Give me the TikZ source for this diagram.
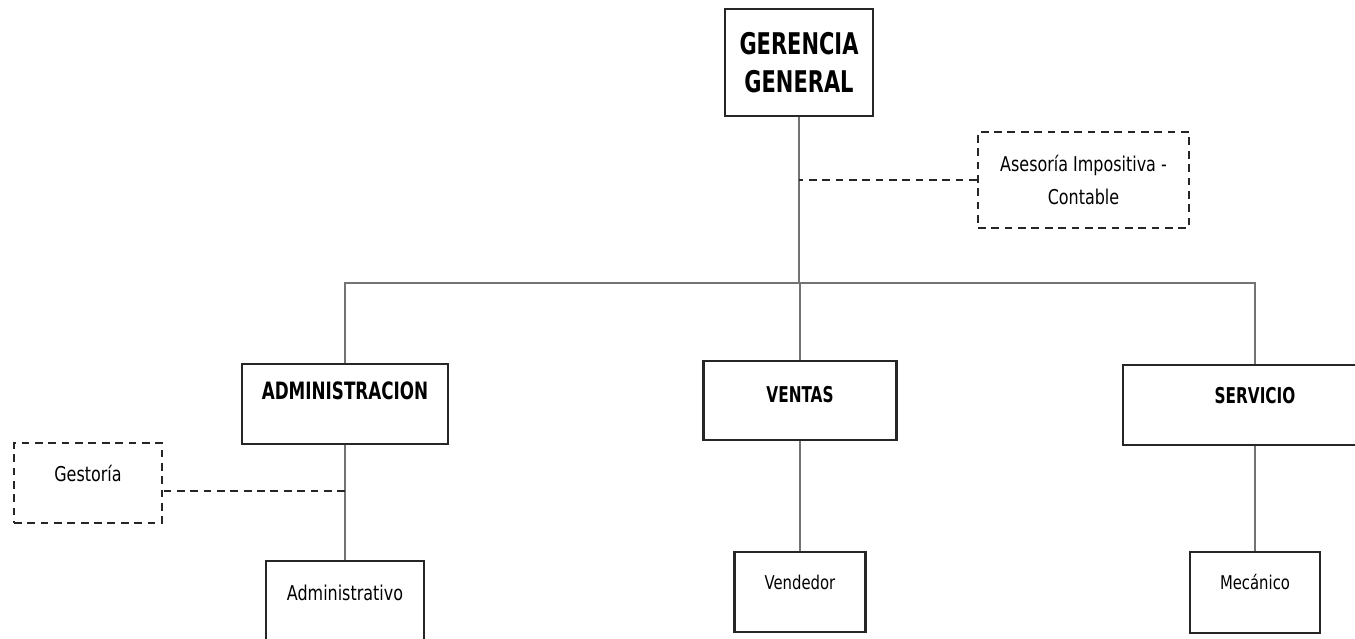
\documentclass[tikz,border=0pt]{standalone}
\usepackage{fontspec}
\setmainfont[FakeStretch=0.87, BoldFeatures={FakeStretch=0.78}]{DejaVu Sans Condensed}
\usepackage{tikz}
\usetikzlibrary{calc}

\tikzset{
  unit/.style={draw=black!85, line width=0.75pt, inner sep=0pt, align=center},
  asesor/.style={draw=black!85, line width=0.7pt, dash pattern=on 2.2pt off 1.6pt, inner sep=0pt, align=center},
  link/.style={draw=black!55, line width=0.7pt},
  dlink/.style={draw=black!85, line width=0.7pt, dash pattern=on 2.2pt off 1.6pt}
}

\begin{document}
\begin{tikzpicture}
  \clip (0,0) rectangle (13.55,-6.39);
  \fill[white] (0,0) rectangle (13.55,-6.39);

\node[unit, minimum width=1.48cm, minimum height=1.07cm, font=\fontsize{8.5}{11}\selectfont\bfseries] (ger) at (7.99,-0.625) {GERENCIA\\GENERAL};

\node[asesor, minimum width=2.11cm, minimum height=0.96cm, font=\fontsize{5.8}{9.5}\selectfont] (ase) at (10.835,-1.80) {Asesoría Impositiva -\\Contable};

\node[unit, minimum width=2.06cm, text height=0.36cm, text depth=0.44cm, font=\fontsize{6.8}{8}\selectfont\bfseries] (adm) at (3.45,-4.04) {ADMINISTRACION};
\node[unit, minimum width=1.93cm, text height=0.42cm, text depth=0.37cm, font=\fontsize{6.2}{8}\selectfont\bfseries] (ven) at (8.0,-4.005) {VENTAS};
\node[unit, minimum width=2.64cm, text height=0.39cm, text depth=0.41cm, font=\fontsize{6.2}{8}\selectfont\bfseries] (ser) at (12.55,-4.05) {SERVICIO};

\node[asesor, minimum width=1.48cm, text height=0.39cm, text depth=0.41cm, font=\fontsize{5.8}{7}\selectfont] (ges) at (0.88,-4.83) {Gestoría};

\node[unit, minimum width=1.58cm, text height=0.39cm, text depth=0.43cm, font=\fontsize{5.8}{7}\selectfont] (adv) at (3.45,-6.02) {Administrativo};
\node[unit, minimum width=1.31cm, text height=0.37cm, text depth=0.43cm, font=\fontsize{5.4}{7}\selectfont] (vnd) at (8.0,-5.92) {Vendedor};
\node[unit, minimum width=1.30cm, text height=0.38cm, text depth=0.43cm, font=\fontsize{5.4}{7}\selectfont] (mec) at (12.55,-5.925) {Mecánico};

% lineas
\coordinate (bus) at (7.99,-2.83);
\draw[link] (ger.south) -- (bus);
\draw[link] (adm.north) |- (bus) -| (ser.north);
\draw[link] (bus) -- (bus -| ven.north) -- (ven.north);

\draw[link] (adm.south) -- (adv.north);
\draw[link] (ven.south) -- (vnd.north);
\draw[link] (ser.south) -- (mec.north);

\draw[dlink] (ase.west) -- (ase.west -| ger.south);
\coordinate (gesj) at (3.45,-4.91);
\draw[dlink] (gesj) -- (gesj -| ges.east);
\end{tikzpicture}
\end{document}
